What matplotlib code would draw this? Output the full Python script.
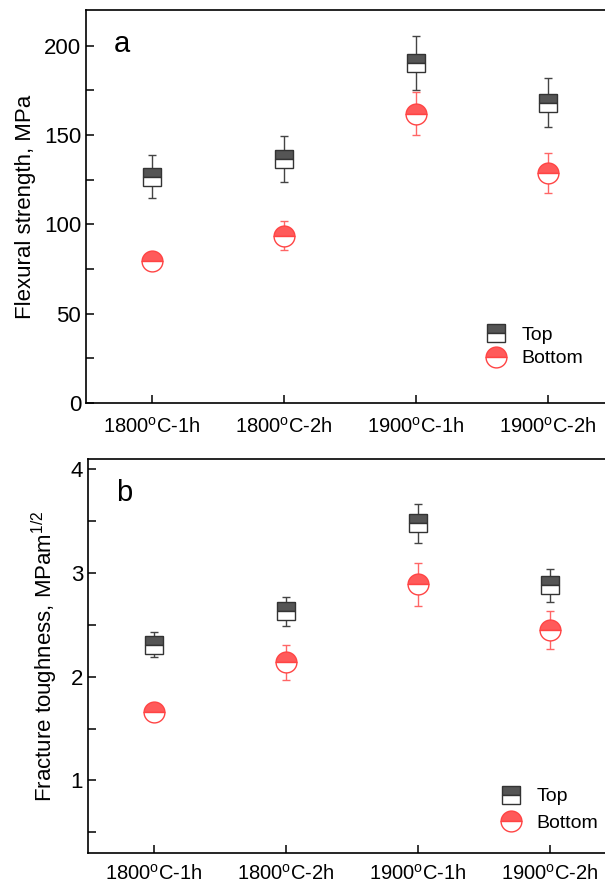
import matplotlib
matplotlib.use("Agg")
import matplotlib.pyplot as plt
from matplotlib.ticker import MultipleLocator

plt.rcParams['font.family'] = ['Liberation Sans', 'DejaVu Sans']
plt.rcParams['mathtext.fontset'] = 'custom'
plt.rcParams['mathtext.rm'] = 'Liberation Sans'

labels = ['1800$^\\mathregular{o}$C-1h', '1800$^\\mathregular{o}$C-2h',
          '1900$^\\mathregular{o}$C-1h', '1900$^\\mathregular{o}$C-2h']
x = [1, 2, 3, 4]

# flexural strength, MPa
flex_top = [126.6, 136.5, 190.3, 168.2]
flex_top_err = [12, 13, 15, 13.5]
flex_bot = [79.5, 93.7, 162, 128.7]
flex_bot_err = [4, 8, 12, 11]

# fracture toughness, MPa m^1/2
tough_top = [2.31, 2.63, 3.48, 2.88]
tough_top_err = [0.12, 0.14, 0.19, 0.16]
tough_bot = [1.66, 2.14, 2.89, 2.45]
tough_bot_err = [0.05, 0.17, 0.21, 0.18]

gray = '#555555'
red = '#ff5a5a'

fig = plt.figure(figsize=(6.05, 8.84), dpi=100)
ax1 = fig.add_axes([0.1421, 0.5441, 0.8727, 0.4446])
ax2 = fig.add_axes([0.1455, 0.0351, 0.8727, 0.4457])


def draw(ax, top, top_err, bot, bot_err, legend_anchor, spacing, xpad):
    ax.errorbar(x, top, yerr=top_err, fmt='none', ecolor='#444444', elinewidth=1,
                capsize=3, capthick=1, zorder=2)
    ax.errorbar(x, bot, yerr=bot_err, fmt='none', ecolor='#ff6666', elinewidth=1,
                capsize=3, capthick=1, zorder=2)
    h1, = ax.plot(x, top, 's', ms=13, fillstyle='top', markerfacecolor=gray,
                  markerfacecoloralt='white', markeredgecolor='#333333',
                  markeredgewidth=1, zorder=3, label='Top')
    h2, = ax.plot(x, bot, 'o', ms=15, fillstyle='top', markerfacecolor=red,
                  markerfacecoloralt='white', markeredgecolor='#ff4444',
                  markeredgewidth=1, zorder=3, label='Bottom')
    ax.legend(handles=[h1, h2], frameon=False, loc='upper left',
              bbox_to_anchor=legend_anchor, fontsize=14, handlelength=1,
              handletextpad=0.8, labelspacing=spacing, borderpad=0)
    ax.set_xlim(0.5, 4.5)
    ax.set_xticks(x)
    ax.set_xticklabels(labels, fontsize=14.5)
    ax.tick_params(axis='both', direction='in', length=6, width=1.1, top=False, right=False)
    ax.tick_params(axis='y', which='minor', direction='in', length=6, width=1.1, right=False)
    ax.tick_params(axis='y', labelsize=16)
    ax.tick_params(axis='x', pad=xpad)
    for s in ax.spines.values():
        s.set_linewidth(1.2)


draw(ax1, flex_top, flex_top_err, flex_bot, flex_bot_err, (0.74, 0.22), 0.3, 10)
ax1.set_ylim(0, 220)
ax1.yaxis.set_major_locator(MultipleLocator(50))
ax1.yaxis.set_minor_locator(MultipleLocator(25))
ax1.set_ylabel('Flexural strength, MPa', fontsize=16, labelpad=6)
ax1.text(0.053, 0.95, 'a', transform=ax1.transAxes, fontsize=21, va='top')

draw(ax2, tough_top, tough_top_err, tough_bot, tough_bot_err, (0.765, 0.19), 0.45, 8)
ax2.set_ylim(0.3, 4.1)
ax2.yaxis.set_major_locator(MultipleLocator(1))
ax2.yaxis.set_minor_locator(MultipleLocator(0.5))
ax2.set_ylabel('Fracture toughness, MPam$^{\\mathregular{1/2}}$', fontsize=16, labelpad=8)
ax2.text(0.053, 0.95, 'b', transform=ax2.transAxes, fontsize=21, va='top')

fig.savefig('out.png', dpi=100)
